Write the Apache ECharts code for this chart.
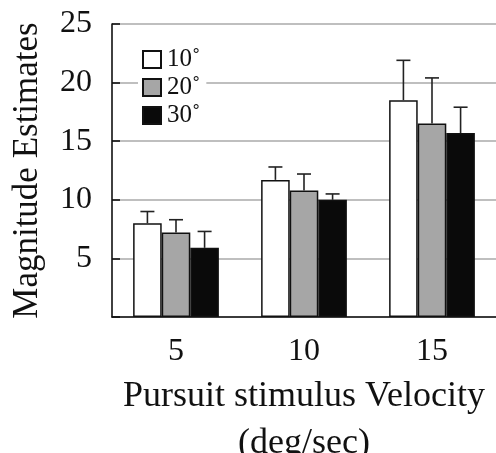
<!DOCTYPE html>
<html>
<head>
<meta charset="utf-8">
<script src="https://cdn.jsdelivr.net/npm/echarts@6/dist/echarts.min.js"></script>
<style>
  html, body { margin: 0; padding: 0; background: #fff; }
  #chart { width: 496px; height: 453px; }
</style>
</head>
<body>
<div id="chart"></div>
<script>
const categories = ['5', '10', '15']
const seriesNames = ['10˚', '20˚', '30˚']
const mean10 = [8.0, 11.7, 18.5]
const mean20 = [7.2, 10.8, 16.5]
const mean30 = [5.9, 10.0, 15.7]
const err10 = [1.0, 1.1, 3.4]
const err20 = [1.1, 1.4, 3.9]
const err30 = [1.4, 0.5, 2.2]
const yTicks = [0, 5, 10, 15, 20, 25]

const font = 'Liberation Serif'
const colors = ['#ffffff', '#a6a6a6', '#0a0a0a']
const means = [mean10, mean20, mean30]
const errs = [err10, err20, err30]

// error bar data: [category index, series index, mean, error]
const errData = []
means.forEach((m, s) => {
  m.forEach((v, i) => errData.push([i, s, v, errs[s][i]]))
})

const barGapRatio = 0.33

function renderErr(params, api) {
  const ci = api.value(0)
  const si = api.value(1)
  const top = api.coord([ci, api.value(2)])
  const tip = api.coord([ci, api.value(2) + api.value(3)])
  const band = api.size([1, 0])[0]
  const bw = band * (1 - barGapRatio) / 3
  const x = top[0] + (si - 1) * bw
  const cap = 7
  return {
    type: 'group',
    children: [
      { type: 'line', shape: { x1: x, y1: top[1], x2: x, y2: tip[1] }, style: { stroke: '#222', lineWidth: 1.6 } },
      { type: 'line', shape: { x1: x - cap, y1: tip[1], x2: x + cap, y2: tip[1] }, style: { stroke: '#222', lineWidth: 1.6 } }
    ]
  }
}

const chart = echarts.init(document.getElementById('chart'))
chart.setOption({
  animation: false,
  backgroundColor: '#fff',
  textStyle: { fontFamily: font, color: '#111' },
  grid: { left: 112, top: 24, right: 0, bottom: 136, containLabel: false, outerBoundsMode: 'none' },
  legend: {
    orient: 'vertical',
    left: 138,
    top: 45,
    itemWidth: 18,
    itemHeight: 17,
    itemGap: 3,
    padding: [2, 6, 2, 4],
    backgroundColor: '#fff',
    icon: 'rect',
    data: seriesNames,
    textStyle: { fontFamily: font, fontSize: 25, lineHeight: 24, color: '#111', padding: [0, 0, 0, 1] }
  },
  xAxis: {
    type: 'category',
    data: categories,
    name: 'Pursuit stimulus Velocity\n(deg/sec)',
    nameLocation: 'middle',
    nameGap: 51,
    nameTextStyle: { fontFamily: font, fontSize: 36, color: '#111', lineHeight: 47 },
    axisLine: { lineStyle: { color: '#111', width: 1.6 } },
    axisTick: { show: false },
    axisLabel: { fontFamily: font, fontSize: 32, color: '#111', margin: 19 }
  },
  yAxis: {
    type: 'value',
    min: yTicks[0],
    max: yTicks[yTicks.length - 1],
    interval: 5,
    name: 'Magnitude Estimates',
    nameLocation: 'middle',
    nameGap: 67,
    nameTextStyle: { fontFamily: font, fontSize: 35, color: '#111' },
    axisLine: { show: true, lineStyle: { color: '#111', width: 1.6 } },
    axisTick: { show: true, inside: true, length: 8, lineStyle: { color: '#111', width: 1.6 } },
    axisLabel: {
      fontFamily: font, fontSize: 32, color: '#111', margin: 20,
      formatter: v => (v === 0 ? '' : String(v))
    },
    splitLine: { lineStyle: { color: '#aaaaaa', width: 1.5 } }
  },
  series: [
    ...means.map((m, s) => ({
      name: seriesNames[s],
      type: 'bar',
      data: m,
      barGap: '0%',
      barCategoryGap: (barGapRatio * 100) + '%',
      itemStyle: { color: colors[s], borderColor: '#111', borderWidth: 1.5 }
    })),
    {
      type: 'custom',
      renderItem: renderErr,
      data: errData,
      encode: { x: 0, y: 2 },
      z: 3
    }
  ]
})
</script>
</body>
</html>
